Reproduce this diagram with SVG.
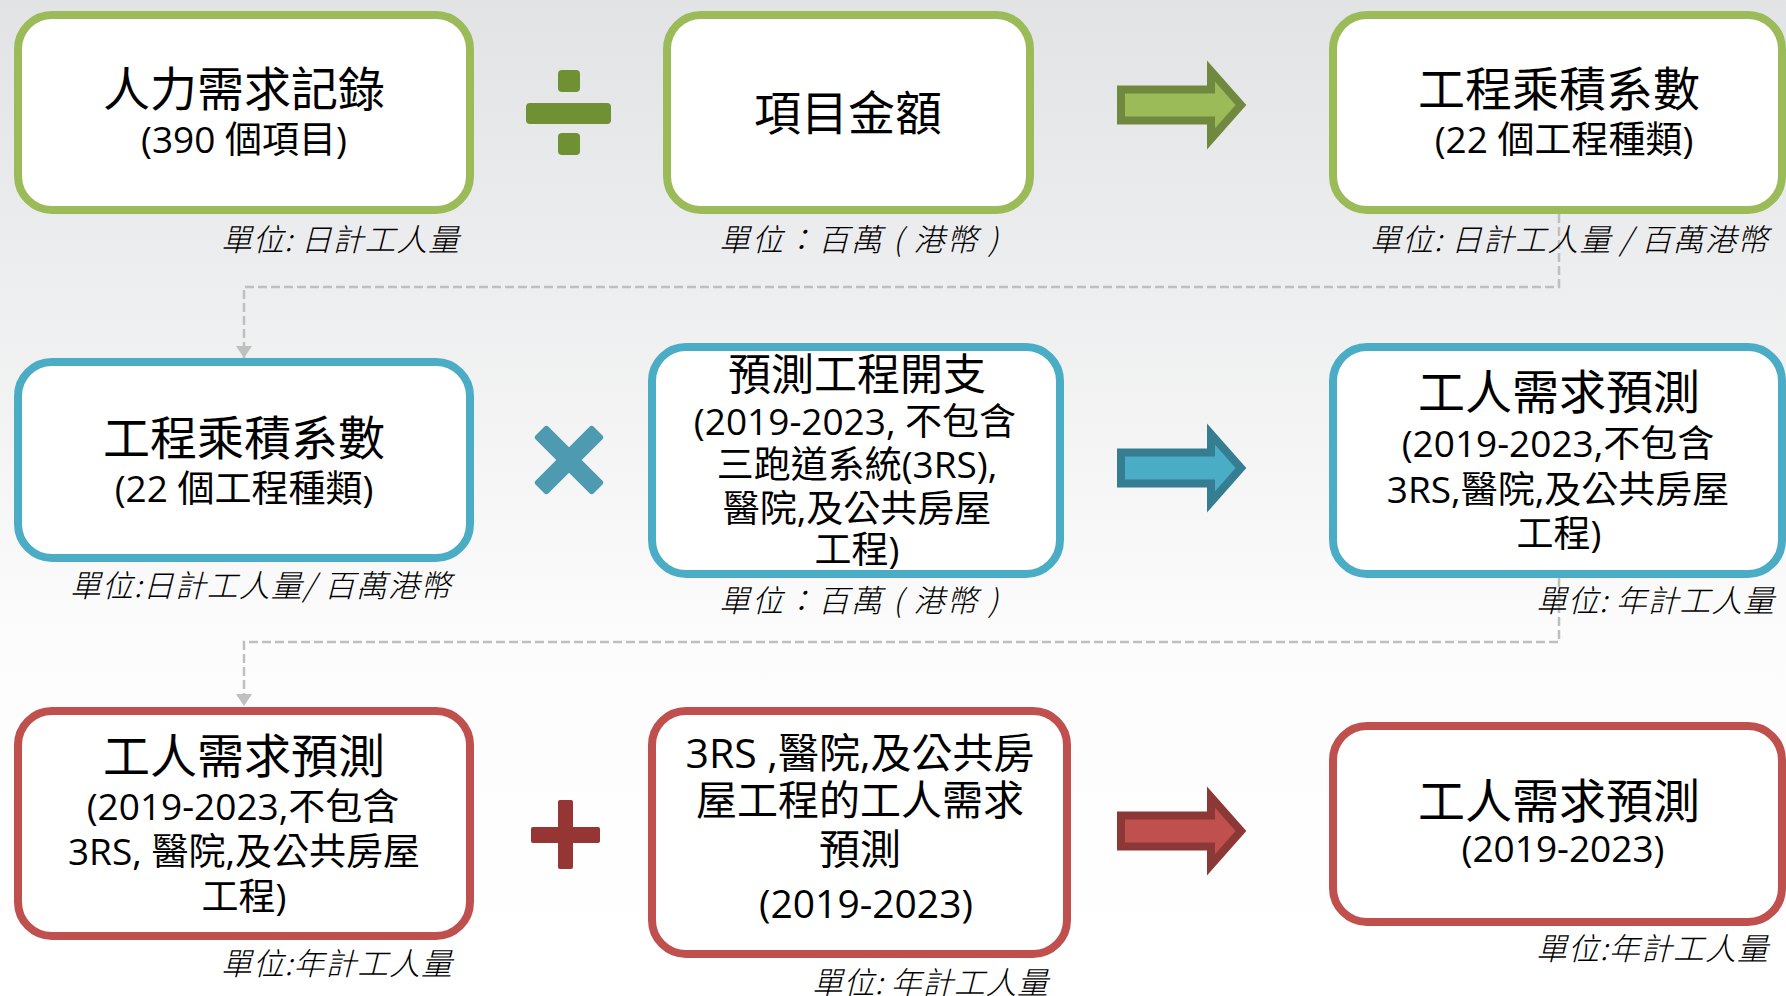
<svg xmlns="http://www.w3.org/2000/svg" width="1786" height="996" viewBox="0 0 1786 996">
<defs>
<linearGradient id="bg" x1="0" y1="0" x2="0" y2="1">
<stop offset="0" stop-color="#e2e3e5"/>
<stop offset="0.65" stop-color="#fcfcfc"/>
<stop offset="1" stop-color="#ffffff"/>
</linearGradient>
<marker id="ah" markerUnits="userSpaceOnUse" markerWidth="14" markerHeight="16" refX="12" refY="8" orient="auto">
<path d="M0,0 L12,8 L0,16 Z" fill="#bfbfbf"/>
</marker>
<path id="arrow" d="M4,-15.5 H94 V-34 L124,0 L94,34 V15.5 H4 Z"/>
<style>
.t{font-family:"Open Sans","Noto Sans CJK TC","Noto Sans CJK SC",sans-serif;font-weight:400;fill:#000;text-anchor:middle}
.h{font-size:47px}
.s{font-size:37px}
.u{font-family:"Noto Sans CJK TC","Noto Sans CJK SC",sans-serif;font-weight:300;font-size:31px;font-style:italic;fill:#000}
.box{fill:#fff;stroke-width:8}
.g{stroke:#9bbb59}
.b{stroke:#4bacc6}
.r{stroke:#c0504d}
.dash{fill:none;stroke:#bfbfbf;stroke-width:2.5;stroke-dasharray:9 4}
.ag{fill:#9bbb59;stroke:#71893f;stroke-width:8}
.ab{fill:#4bacc6;stroke:#357d91;stroke-width:8}
.ar{fill:#c0504d;stroke:#8c3836;stroke-width:8}
</style>
</defs>
<rect x="0" y="0" width="1786" height="996" fill="url(#bg)"/>

<g id="connectors">
<path class="dash" d="M1559,214 V287 H244 V358" marker-end="url(#ah)"/>
<path class="dash" d="M1559,578 V642 H244 V706" marker-end="url(#ah)"/>
<use href="#arrow" class="ag" transform="translate(1117,105)"/>
<use href="#arrow" class="ab" transform="translate(1117,468)"/>
<use href="#arrow" class="ar" transform="translate(1117,831)"/>
</g>

<g id="op-divide" fill="#6f9134">
<rect x="526" y="103" width="85" height="21" rx="4"/>
<rect x="558" y="70" width="22" height="22" rx="4"/>
<rect x="558" y="133" width="22" height="22" rx="4"/>
</g>
<g id="op-multiply" fill="#4e9ab0" transform="translate(569,460)">
<rect x="-41" y="-9" width="82" height="18" rx="3" transform="rotate(45)"/>
<rect x="-41" y="-9" width="82" height="18" rx="3" transform="rotate(-45)"/>
</g>
<g id="op-plus" fill="#963634">
<rect x="531" y="827" width="69" height="16" rx="2"/>
<rect x="558" y="800" width="15" height="69" rx="2"/>
</g>

<g id="n1">
<rect class="box g" x="18" y="15" width="452" height="195" rx="34"/>
<text class="t h" x="244" y="106">人力需求記錄</text>
<text class="t s" x="244" y="153">(390 個項目)</text>
<text class="u" x="221" y="251" textLength="238" lengthAdjust="spacing">單位: 日計工人量</text>
</g>
<g id="n2">
<rect class="box g" x="667" y="15" width="363" height="195" rx="34"/>
<text class="t h" x="848" y="130">項目金額</text>
<text class="u" x="719" y="251" textLength="279" lengthAdjust="spacing">單位：百萬 ( 港幣 )</text>
</g>
<g id="n3">
<rect class="box g" x="1333" y="15" width="449" height="195" rx="34"/>
<text class="t h" x="1559" y="106">工程乘積系數</text>
<text class="t s" x="1564" y="153">(22 個工程種類)</text>
<text class="u" x="1370" y="251" textLength="398" lengthAdjust="spacing">單位: 日計工人量 / 百萬港幣</text>
</g>

<g id="n4">
<rect class="box b" x="18" y="362" width="452" height="196" rx="34"/>
<text class="t h" x="244" y="455">工程乘積系數</text>
<text class="t s" x="244" y="502">(22 個工程種類)</text>
<text class="u" x="70" y="597" textLength="381" lengthAdjust="spacing">單位:日計工人量/ 百萬港幣</text>
</g>
<g id="n5">
<rect class="box b" x="652" y="347" width="408" height="227" rx="34"/>
<text class="t" x="857" y="390" font-size="43">預測工程開支</text>
<text class="t s" x="855" y="435">(2019-2023, 不包含</text>
<text class="t s" x="857" y="478">三跑道系統(3RS),</text>
<text class="t s" x="857" y="522">醫院,及公共房屋</text>
<text class="t s" x="857" y="563">工程)</text>
<text class="u" x="719" y="612" textLength="279" lengthAdjust="spacing">單位：百萬 ( 港幣 )</text>
</g>
<g id="n6">
<rect class="box b" x="1333" y="347" width="449" height="227" rx="34"/>
<text class="t h" x="1559" y="409">工人需求預測</text>
<text class="t s" x="1558" y="457">(2019-2023,不包含</text>
<text class="t s" x="1558" y="503">3RS,醫院,及公共房屋</text>
<text class="t s" x="1559" y="547">工程)</text>
<text class="u" x="1536" y="612" textLength="238" lengthAdjust="spacing">單位: 年計工人量</text>
</g>

<g id="n7">
<rect class="box r" x="18" y="711" width="452" height="225" rx="34"/>
<text class="t h" x="244" y="773">工人需求預測</text>
<text class="t s" x="243" y="820">(2019-2023,不包含</text>
<text class="t s" x="244" y="865">3RS, 醫院,及公共房屋</text>
<text class="t s" x="244" y="910">工程)</text>
<text class="u" x="221" y="975" textLength="231" lengthAdjust="spacing">單位:年計工人量</text>
</g>
<g id="n8">
<rect class="box r" x="652" y="711" width="415" height="243" rx="34"/>
<text class="t" x="860" y="768" font-size="41">3RS ,醫院,及公共房</text>
<text class="t" x="860" y="815" font-size="41">屋工程的工人需求</text>
<text class="t" x="860" y="864" font-size="41">預測</text>
<text class="t" x="866" y="918" font-size="39">(2019-2023)</text>
<text class="u" x="812" y="994" textLength="236" lengthAdjust="spacing">單位: 年計工人量</text>
</g>
<g id="n9">
<rect class="box r" x="1333" y="726" width="449" height="196" rx="34"/>
<text class="t h" x="1559" y="818">工人需求預測</text>
<text class="t s" x="1563" y="862">(2019-2023)</text>
<text class="u" x="1536" y="960" textLength="232" lengthAdjust="spacing">單位:年計工人量</text>
</g>
</svg>
